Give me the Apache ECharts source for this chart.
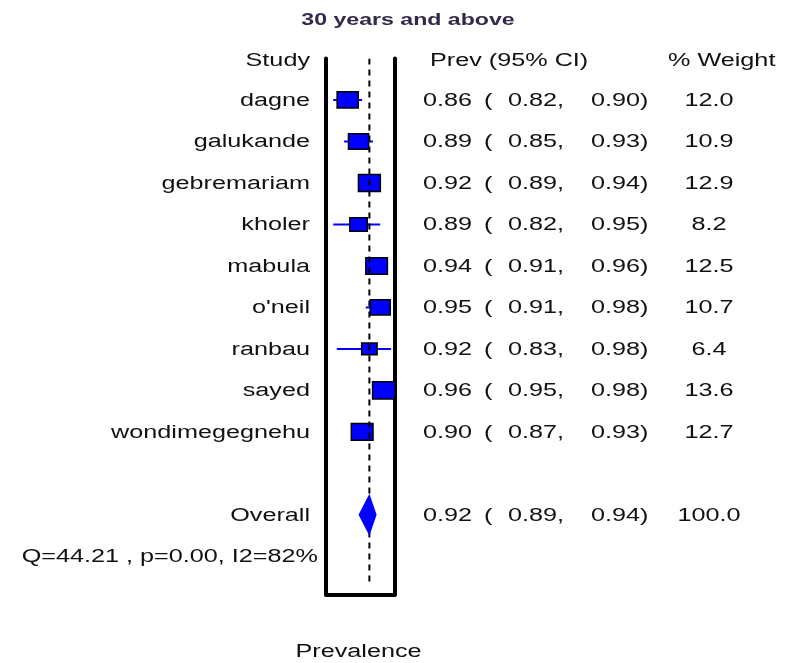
<!DOCTYPE html>
<html>
<head>
<meta charset="utf-8">
<script src="https://cdn.jsdelivr.net/npm/echarts@6/dist/echarts.min.js"></script>
<style>
html,body{margin:0;padding:0;background:#fff;}
#chart{width:791px;height:663px;}
</style>
</head>
<body>
<div id="chart"></div>
<script>
// ---- data ----
const studies = ['dagne', 'galukande', 'gebremariam', 'kholer', 'mabula', "o'neil", 'ranbau', 'sayed', 'wondimegegnehu'];
const prev    = [0.86, 0.89, 0.92, 0.89, 0.94, 0.95, 0.92, 0.96, 0.90];
const lower   = [0.82, 0.85, 0.89, 0.82, 0.91, 0.91, 0.83, 0.95, 0.87];
const upper   = [0.90, 0.93, 0.94, 0.95, 0.96, 0.98, 0.98, 0.98, 0.93];
const weight  = [12.0, 10.9, 12.9, 8.2, 12.5, 10.7, 6.4, 13.6, 12.7];
const overallLabel = 'Overall';
const overallPrev = 0.92, overallLower = 0.89, overallUpper = 0.94, overallWeight = 100.0;
const heterogeneity = 'Q=44.21 , p=0.00, I2=82%';
const headers = ['Study', 'Prev (95% CI)', '% Weight'];
const titleText = '30 years and above';
const axisName = 'Prevalence';
const xMin = 0.80, xMax = 0.99;

// ---- layout / style ----
const SX = 1.4;
const FONT = '18px "Liberation Sans", Arial, sans-serif';
const TXT = '#111';

function t(x, y, text, align, extra) {
  return Object.assign({
    type: 'text', x: x, y: y, scaleX: SX,
    style: { x: 0, y: 0, text: text, font: FONT, fill: TXT, align: align, verticalAlign: 'middle' }
  }, extra || {});
}

// rows: index 0 header, 1..9 studies, 11 overall, 12 heterogeneity
const studyRows = studies.map((s, i) => [prev[i], i + 1, lower[i], upper[i], weight[i], i]);
const overallRow = [[overallPrev, 11, overallLower, overallUpper, overallWeight]];

const textRows = [];
textRows.push([xMin, 0, -1]);
studies.forEach((s, i) => textRows.push([xMin, i + 1, i]));
textRows.push([xMin, 11, 100]);
textRows.push([xMin, 12, 200]);

const chart = echarts.init(document.getElementById('chart'), null, { renderer: 'canvas' });

const option = {
  animation: false,
  backgroundColor: '#fff',
  grid: { left: 326, top: 58.5, width: 68.7, height: 536, containLabel: false },
  xAxis: {
    type: 'value', min: xMin, max: xMax,
    axisLine: { show: true, onZero: false, lineStyle: { color: '#000', width: 4 } },
    axisTick: { show: false }, axisLabel: { show: false }, splitLine: { show: false }
  },
  yAxis: [
    { type: 'value', min: 0, max: 12.92, inverse: true, position: 'left',
      axisLine: { show: true, onZero: false, lineStyle: { color: '#000', width: 4 } },
      axisTick: { show: false }, axisLabel: { show: false }, splitLine: { show: false } },
    { type: 'value', min: 0, max: 12.92, inverse: true, position: 'right',
      axisLine: { show: true, onZero: false, lineStyle: { color: '#000', width: 4 } },
      axisTick: { show: false }, axisLabel: { show: false }, splitLine: { show: false } }
  ],
  graphic: [
    { type: 'text', x: 408, y: 20, scaleX: 1.36,
      style: { x: 0, y: 0, text: titleText, font: 'bold 17px "Liberation Sans", Arial, sans-serif',
               fill: '#33294a', align: 'center', verticalAlign: 'middle' } },
    t(358.5, 652, axisName, 'center')
  ],
  series: [
    {
      type: 'custom', name: 'studies', z: 2, clip: true,
      encode: { x: 0, y: 1 },
      data: studyRows,
      renderItem: function (params, api) {
        const y = api.value(1);
        const c = api.coord([api.value(0), y]);
        const l = api.coord([api.value(2), y]);
        const h = api.coord([api.value(3), y]);
        const w = 6.1 * Math.sqrt(api.value(4));
        const hh = w * 0.77;
        return {
          type: 'group',
          children: [
            { type: 'line', shape: { x1: l[0], y1: c[1], x2: h[0], y2: c[1] },
              style: { stroke: '#0000ff', lineWidth: 2 } },
            { type: 'rect', shape: { x: c[0] - w / 2, y: c[1] - hh / 2, width: w, height: hh },
              style: { fill: '#0000ff', stroke: '#000', lineWidth: 1.5 } }
          ]
        };
      }
    },
    {
      type: 'custom', name: 'overall', z: 4, clip: true,
      encode: { x: 0, y: 1 },
      data: overallRow,
      renderItem: function (params, api) {
        const y = api.value(1);
        const c = api.coord([api.value(0), y]);
        const l = api.coord([api.value(2), y]);
        const h = api.coord([api.value(3), y]);
        const top = api.coord([api.value(0), 0]);
        const bot = api.coord([api.value(0), 12.7]);
        const hh = 21;
        return {
          type: 'group',
          children: [
            { type: 'line', z2: 1,
              shape: { x1: top[0], y1: top[1], x2: bot[0], y2: bot[1] },
              style: { stroke: '#000', lineWidth: 2, lineDash: [6, 5] } },
            { type: 'polygon', z2: 2,
              shape: { points: [[l[0], c[1]], [c[0], c[1] - hh], [h[0], c[1]], [c[0], c[1] + hh]] },
              style: { fill: '#0000ff' } }
          ]
        };
      }
    },
    {
      type: 'custom', name: 'text', z: 5, clip: false,
      encode: { x: 0, y: 1 },
      data: textRows,
      renderItem: function (params, api) {
        const row = api.value(1);
        const key = api.value(2);
        const yy = api.coord([xMin, row])[1] + 1;
        if (key === -1) {
          return { type: 'group', children: [
            t(310, yy + 2, headers[0], 'right'),
            t(430, yy + 2, headers[1], 'left'),
            t(668, yy + 2, headers[2], 'left')
          ]};
        }
        if (key === 200) {
          return t(318, yy, heterogeneity, 'right');
        }
        let name, p, lo, hi, w;
        if (key === 100) {
          name = overallLabel; p = overallPrev; lo = overallLower; hi = overallUpper; w = overallWeight;
        } else {
          name = studies[key]; p = prev[key]; lo = lower[key]; hi = upper[key]; w = weight[key];
        }
        return { type: 'group', children: [
          t(310, yy, name, 'right'),
          t(423, yy, p.toFixed(2), 'left'),
          t(484, yy, '(', 'left'),
          t(508, yy, lo.toFixed(2) + ',', 'left'),
          t(591, yy, hi.toFixed(2) + ')', 'left'),
          t(709, yy, w.toFixed(1), 'center')
        ]};
      }
    }
  ]
};
chart.setOption(option);
</script>
</body>
</html>
